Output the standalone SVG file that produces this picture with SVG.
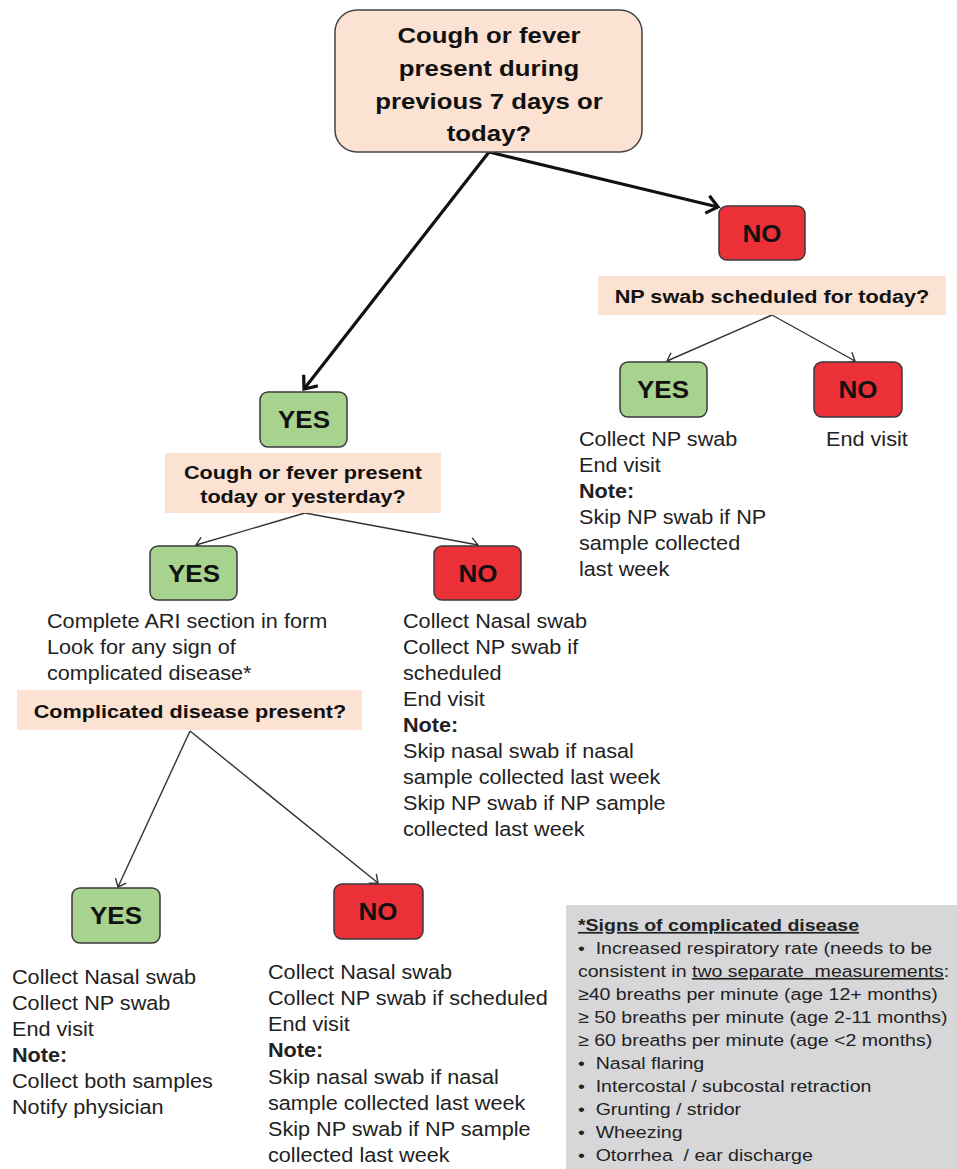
<svg xmlns="http://www.w3.org/2000/svg" width="957" height="1169" viewBox="0 0 957 1169">
<style>
.q{fill:#fbe2d3;stroke:none}
.yes{fill:#a8d38f;stroke:#3a3a3a;stroke-width:1.5}
.no{fill:#ec3038;stroke:#3a3a3a;stroke-width:1.5}
.bt{font-family:"Liberation Sans",Arial,sans-serif;font-weight:bold;fill:#111;text-anchor:middle}
.t{font-family:"Liberation Sans",Arial,sans-serif;font-size:19.5px;fill:#222}
.b{font-weight:bold}
.s{font-family:"Liberation Sans",Arial,sans-serif;font-size:17px;fill:#222}
.thick{stroke:#111;stroke-width:3.2;fill:none}
.thin{stroke:#333;stroke-width:1.4;fill:none}
</style>
<defs>
<marker id="ah" markerWidth="24" markerHeight="24" refX="12" refY="12" orient="auto" markerUnits="userSpaceOnUse" viewBox="0 0 24 24">
<path d="M1,3 L12,12 L1,21" fill="none" stroke="#111" stroke-width="3.2"/>
</marker>
<marker id="at" markerWidth="20" markerHeight="20" refX="10" refY="10" orient="auto" markerUnits="userSpaceOnUse" viewBox="0 0 20 20">
<path d="M3,4 L10,10 L3,16" fill="none" stroke="#333" stroke-width="1.4"/>
</marker>
</defs>
<rect width="957" height="1169" fill="#ffffff"/>

<g id="connectors">
<line class="thick" x1="489" y1="152" x2="304" y2="389" marker-end="url(#ah)"/>
<line class="thick" x1="489" y1="152" x2="718" y2="207" marker-end="url(#ah)"/>
<line class="thin" x1="772" y1="315" x2="667" y2="361" marker-end="url(#at)"/>
<line class="thin" x1="772" y1="315" x2="855" y2="361" marker-end="url(#at)"/>
<line class="thin" x1="305" y1="513" x2="196" y2="545" marker-end="url(#at)"/>
<line class="thin" x1="305" y1="513" x2="478" y2="545" marker-end="url(#at)"/>
<line class="thin" x1="190" y1="731" x2="118" y2="887" marker-end="url(#at)"/>
<line class="thin" x1="190" y1="731" x2="378" y2="883" marker-end="url(#at)"/>
</g>

<g id="q1">
<rect x="335" y="10" width="307" height="142" rx="22" fill="#fbe2d3" stroke="#444" stroke-width="1.5"/>
<g transform="translate(489,0) scale(1.12,1) translate(-489,0)">
<text class="bt" font-size="23" x="489" y="43">Cough or fever</text>
<text class="bt" font-size="23" x="489" y="76">present during</text>
<text class="bt" font-size="23" x="489" y="109">previous 7 days or</text>
<text class="bt" font-size="23" x="489" y="141">today?</text>
</g>
</g>

<g id="no1">
<rect class="no" x="719" y="206" width="86" height="54" rx="8"/>
<text class="bt" font-size="23" x="762" y="242" transform="translate(762,0) scale(1.13,1) translate(-762,0)">NO</text>
</g>

<g id="q2">
<rect class="q" x="598" y="276" width="348" height="39"/>
<text class="bt" font-size="18.5" x="772" y="303" transform="translate(772,0) scale(1.17,1) translate(-772,0)">NP swab scheduled for today?</text>
</g>

<g id="yes2">
<rect class="yes" x="620" y="362" width="87" height="55" rx="8"/>
<text class="bt" font-size="23" x="663" y="398" transform="translate(663,0) scale(1.13,1) translate(-663,0)">YES</text>
<g transform="translate(579,0) scale(1.11,1) translate(-579,0)">
<text class="t" x="579" y="446">Collect NP swab</text>
<text class="t" x="579" y="472">End visit</text>
<text class="t b" x="579" y="498">Note:</text>
<text class="t" x="579" y="524">Skip NP swab if NP</text>
<text class="t" x="579" y="550">sample collected</text>
<text class="t" x="579" y="576">last week</text>
</g>
</g>

<g id="no2">
<rect class="no" x="814" y="362" width="88" height="55" rx="8"/>
<text class="bt" font-size="23" x="858" y="398" transform="translate(858,0) scale(1.13,1) translate(-858,0)">NO</text>
<text class="t" x="826" y="446" transform="translate(826,0) scale(1.11,1) translate(-826,0)">End visit</text>
</g>

<g id="yes1">
<rect class="yes" x="260" y="392" width="87" height="55" rx="8"/>
<text class="bt" font-size="23" x="304" y="428" transform="translate(304,0) scale(1.13,1) translate(-304,0)">YES</text>
</g>

<g id="q3">
<rect class="q" x="165" y="453" width="276" height="60"/>
<g transform="translate(303,0) scale(1.17,1) translate(-303,0)">
<text class="bt" font-size="18.5" x="303" y="479">Cough or fever present</text>
<text class="bt" font-size="18.5" x="303" y="503">today or yesterday?</text>
</g>
</g>

<g id="yes3">
<rect class="yes" x="150" y="546" width="87" height="54" rx="8"/>
<text class="bt" font-size="23" x="194" y="582" transform="translate(194,0) scale(1.13,1) translate(-194,0)">YES</text>
<g transform="translate(47,0) scale(1.11,1) translate(-47,0)">
<text class="t" x="47" y="628">Complete ARI section in form</text>
<text class="t" x="47" y="654">Look for any sign of</text>
<text class="t" x="47" y="680">complicated disease*</text>
</g>
</g>

<g id="no3">
<rect class="no" x="434" y="546" width="87" height="54" rx="8"/>
<text class="bt" font-size="23" x="478" y="582" transform="translate(478,0) scale(1.13,1) translate(-478,0)">NO</text>
<g transform="translate(403,0) scale(1.11,1) translate(-403,0)">
<text class="t" x="403" y="628">Collect Nasal swab</text>
<text class="t" x="403" y="654">Collect NP swab if</text>
<text class="t" x="403" y="680">scheduled</text>
<text class="t" x="403" y="706">End visit</text>
<text class="t b" x="403" y="732">Note:</text>
<text class="t" x="403" y="758">Skip nasal swab if nasal</text>
<text class="t" x="403" y="784">sample collected last week</text>
<text class="t" x="403" y="810">Skip NP swab if NP sample</text>
<text class="t" x="403" y="836">collected last week</text>
</g>
</g>

<g id="q4">
<rect class="q" x="17" y="690" width="345" height="40"/>
<text class="bt" font-size="18.5" x="190" y="718" transform="translate(190,0) scale(1.17,1) translate(-190,0)">Complicated disease present?</text>
</g>

<g id="yes4">
<rect class="yes" x="72" y="888" width="88" height="55" rx="8"/>
<text class="bt" font-size="23" x="116" y="924" transform="translate(116,0) scale(1.13,1) translate(-116,0)">YES</text>
<g transform="translate(12,0) scale(1.11,1) translate(-12,0)">
<text class="t" x="12" y="984">Collect Nasal swab</text>
<text class="t" x="12" y="1010">Collect NP swab</text>
<text class="t" x="12" y="1036">End visit</text>
<text class="t b" x="12" y="1062">Note:</text>
<text class="t" x="12" y="1088">Collect both samples</text>
<text class="t" x="12" y="1114">Notify physician</text>
</g>
</g>

<g id="no4">
<rect class="no" x="334" y="884" width="89" height="55" rx="8"/>
<text class="bt" font-size="23" x="378" y="920" transform="translate(378,0) scale(1.13,1) translate(-378,0)">NO</text>
<g transform="translate(268,0) scale(1.11,1) translate(-268,0)">
<text class="t" x="268" y="979">Collect Nasal swab</text>
<text class="t" x="268" y="1005">Collect NP swab if scheduled</text>
<text class="t" x="268" y="1031">End visit</text>
<text class="t b" x="268" y="1057">Note:</text>
<text class="t" x="268" y="1084">Skip nasal swab if nasal</text>
<text class="t" x="268" y="1110">sample collected last week</text>
<text class="t" x="268" y="1136">Skip NP swab if NP sample</text>
<text class="t" x="268" y="1162">collected last week</text>
</g>
</g>

<g id="legend">
<rect x="566" y="905" width="391" height="264" fill="#d7d7d9"/>
<g transform="translate(578,0) scale(1.15,1) translate(-578,0)">
<text class="s b" x="578" y="931" text-decoration="underline">*Signs of complicated disease</text>
<text class="s" x="578" y="954">•&#160;&#160;Increased respiratory rate (needs to be</text>
<text class="s" x="578" y="977">consistent in <tspan text-decoration="underline">two separate&#160; measurements</tspan>:</text>
<text class="s" x="578" y="1000">≥40 breaths per minute (age 12+ months)</text>
<text class="s" x="578" y="1023">≥ 50 breaths per minute (age 2-11 months)</text>
<text class="s" x="578" y="1046">≥ 60 breaths per minute (age &lt;2 months)</text>
<text class="s" x="578" y="1069">•&#160; Nasal flaring</text>
<text class="s" x="578" y="1092">•&#160; Intercostal / subcostal retraction</text>
<text class="s" x="578" y="1115">•&#160; Grunting / stridor</text>
<text class="s" x="578" y="1138">•&#160; Wheezing</text>
<text class="s" x="578" y="1161">•&#160; Otorrhea&#160; / ear discharge</text>
</g>
</g>
</svg>
